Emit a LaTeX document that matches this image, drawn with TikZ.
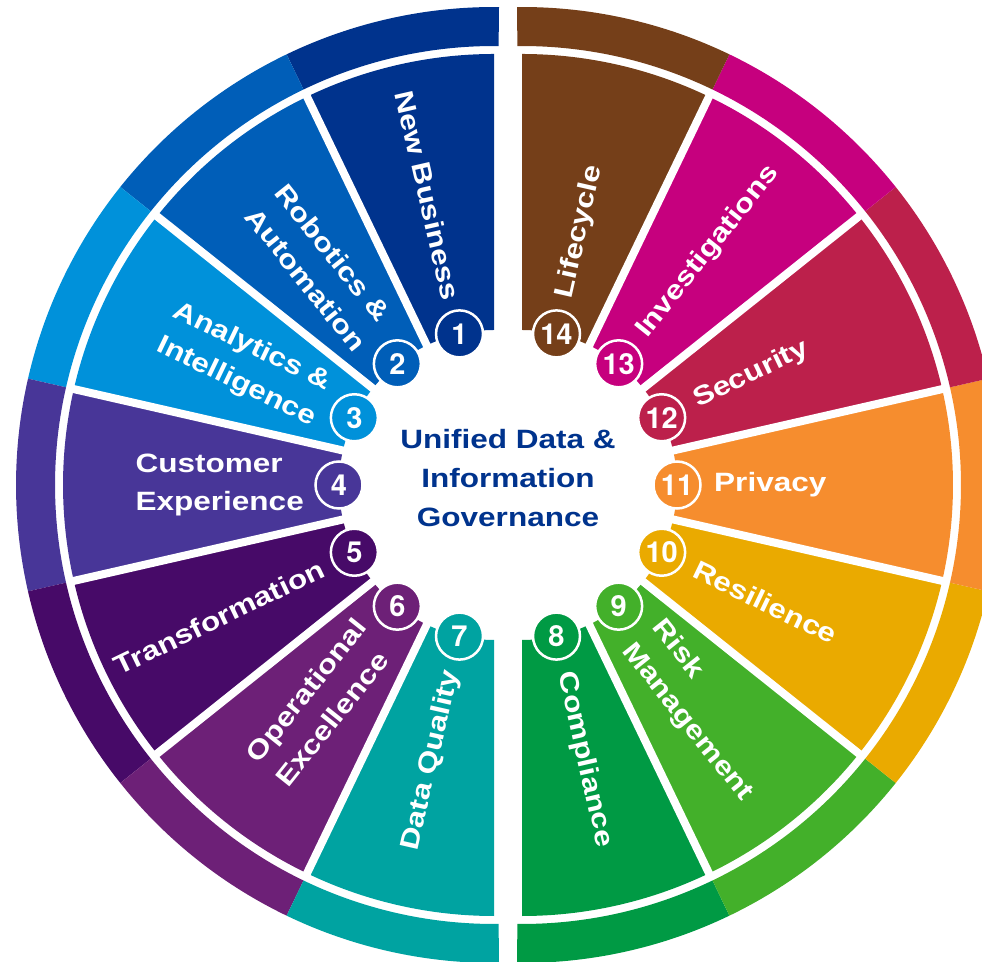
\documentclass[tikz,border=0pt]{standalone}
\usepackage{fontspec}
\setmainfont{Liberation Sans}[FakeStretch=1.19]
\newfontfamily\digitfont{TeX Gyre Heros}
\usetikzlibrary{calc}
\definecolor{c1}{RGB}{0,51,141}
\definecolor{c2}{RGB}{0,94,184}
\definecolor{c3}{RGB}{0,145,218}
\definecolor{c4}{RGB}{72,54,152}
\definecolor{c5}{RGB}{71,10,104}
\definecolor{c6}{RGB}{109,32,119}
\definecolor{c7}{RGB}{0,163,161}
\definecolor{c8}{RGB}{0,154,68}
\definecolor{c9}{RGB}{67,176,42}
\definecolor{c10}{RGB}{234,170,0}
\definecolor{c11}{RGB}{246,141,46}
\definecolor{c12}{RGB}{188,32,75}
\definecolor{c13}{RGB}{198,0,126}
\definecolor{c14}{RGB}{117,63,25}
\definecolor{titleblue}{RGB}{0,51,141}
\tikzset{
  sepline/.style={white, line width=8pt},
  numdisc/.style={circle, draw=white, line width=2.5pt, minimum size=47pt, inner sep=0pt,
    text=white, font=\digitfont\bfseries\fontsize{29}{31}\selectfont},
  seglabel/.style={text=white, inner sep=0pt, align=left,
    font=\fontsize{26.5}{38}\selectfont\bfseries},
  titletext/.style={text=titleblue, align=center, inner sep=0pt,
    font=\fontsize{26.5}{39}\selectfont\bfseries}
}
\begin{document}
\begin{tikzpicture}[x=1pt,y=1pt]
\useasboundingbox (0,0) rectangle (982,961);
\clip (0,0) rectangle (982,961);
\coordinate (L) at (494,476);
\coordinate (R) at (522,476);
\def\rin{155}
\def\rout{431}
\def\rrin{439}
\def\rrout{478}
% left half
\foreach \i in {1,...,7}{
  \pgfmathsetmacro\angA{90+(\i-1)*180/7}
  \pgfmathsetmacro\angB{90+\i*180/7}
  \pgfmathsetmacro\ringA{\i==1 ? 89.4 : \angA}
  \pgfmathsetmacro\ringB{\i==7 ? 270.6 : \angB}
  \fill[c\i] ($(L)+(\ringA:\rrin)$) arc[start angle=\ringA,end angle=\ringB,radius=\rrin]
     -- ($(L)+(\ringB:\rrout)$) arc[start angle=\ringB,end angle=\ringA,radius=\rrout] -- cycle;
  \fill[c\i] ($(L)+(\angA:\rin)$) arc[start angle=\angA,end angle=\angB,radius=\rin]
     -- ($(L)+(\angB:\rout)$) arc[start angle=\angB,end angle=\angA,radius=\rout] -- cycle;
}
% right half
\foreach \i in {8,...,14}{
  \pgfmathsetmacro\angA{-90+(\i-8)*180/7}
  \pgfmathsetmacro\angB{-90+(\i-7)*180/7}
  \pgfmathsetmacro\ringA{\i==8 ? -90.6 : \angA}
  \pgfmathsetmacro\ringB{\i==14 ? 90.6 : \angB}
  \fill[c\i] ($(R)+(\ringA:\rrin)$) arc[start angle=\ringA,end angle=\ringB,radius=\rrin]
     -- ($(R)+(\ringB:\rrout)$) arc[start angle=\ringB,end angle=\ringA,radius=\rrout] -- cycle;
  \fill[c\i] ($(R)+(\angA:\rin)$) arc[start angle=\angA,end angle=\angB,radius=\rin]
     -- ($(R)+(\angB:\rout)$) arc[start angle=\angB,end angle=\angA,radius=\rout] -- cycle;
}
% separators
\foreach \k in {1,...,6}{
  \draw[sepline] ($(L)+({90+\k*180/7}:140)$) -- ($(L)+({90+\k*180/7}:435)$);
  \draw[sepline] ($(R)+({-90+\k*180/7}:140)$) -- ($(R)+({-90+\k*180/7}:435)$);
}
% left labels and numbers
\foreach \i/\lab in {1/{New Business},2/{Robotics \&\\Automation},3/{Analytics \&\\Intelligence},
  4/{Customer\\Experience},5/{Transformation},6/{Operational\\Excellence},7/{Data Quality}}{
  \pgfmathsetmacro\angM{90+(\i-0.5)*180/7}
  \pgfmathsetmacro\rotM{\angM-180}
  \node[numdisc, fill=c\i] (num\i) at ($(L)+(\angM:155)$) {\i};
  \node[seglabel, rotate=\rotM, anchor=east] (lab\i) at ($(L)+(\angM:190)$) {\lab};
}
% right labels and numbers
\foreach \i/\lab in {8/{Compliance},9/{Risk\\Management},10/{Resilience},11/{Privacy},
  12/{Security},13/{Investigations},14/{Lifecycle}}{
  \pgfmathsetmacro\angM{-90+(\i-7.5)*180/7}
  \node[numdisc, fill=c\i] (num\i) at ($(R)+(\angM:155)$) {\i};
  \node[seglabel, rotate=\angM, anchor=west] (lab\i) at ($(R)+(\angM:192)$) {\lab};
}
\node[titletext] (title) at (508,483) {Unified Data \&\\Information\\Governance};
\end{tikzpicture}
\end{document}
